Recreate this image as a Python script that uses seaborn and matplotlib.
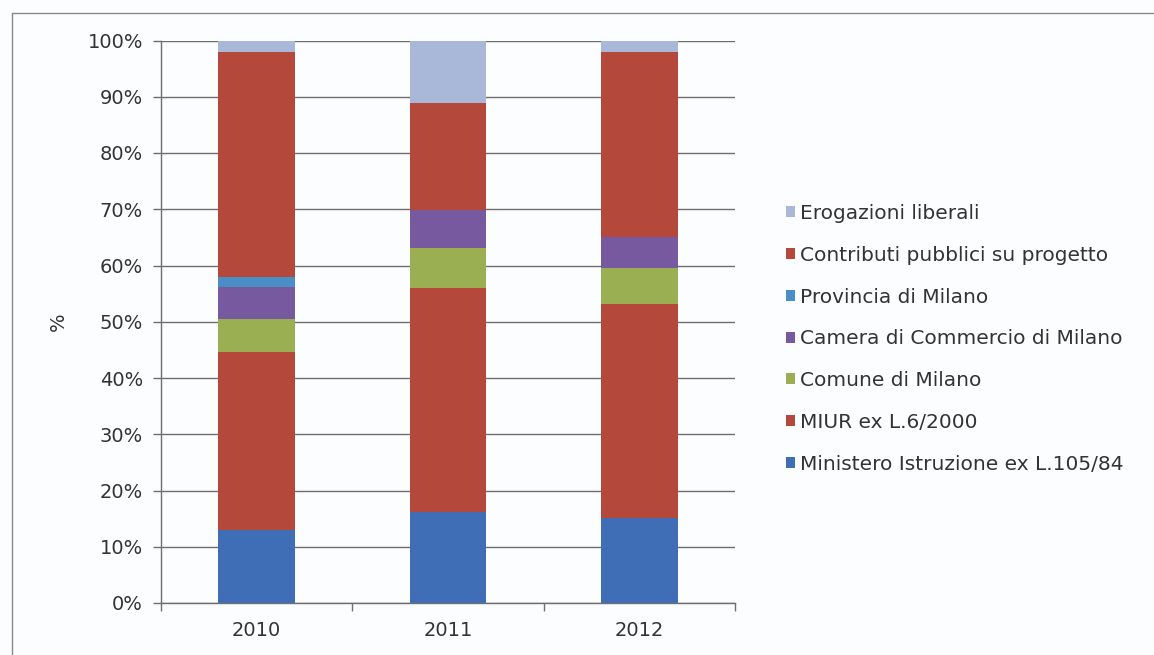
import matplotlib
matplotlib.use("Agg")
import matplotlib.pyplot as plt
import seaborn as sns
import numpy as np
import pandas as pd
from matplotlib.lines import Line2D
from matplotlib.ticker import FixedLocator

# ---- data (percent shares) ----
years = ["2010", "2011", "2012"]
series_names = [
    "Ministero Istruzione ex L.105/84",
    "MIUR ex L.6/2000",
    "Comune di Milano",
    "Camera di Commercio di Milano",
    "Provincia di Milano",
    "Contributi pubblici su progetto",
    "Erogazioni liberali",
]
ministero = [12.9, 16.1, 15.2]
miur = [31.8, 39.9, 38.0]
comune = [5.7, 7.2, 6.3]
camera = [5.7, 6.7, 5.6]
provincia = [1.8, 0.0, 0.0]
contributi = [40.1, 19.0, 32.8]
erogazioni = [2.0, 11.1, 2.1]
series_values = [ministero, miur, comune, camera, provincia, contributi, erogazioni]
ytick_labels = ["0%", "10%", "20%", "30%", "40%", "50%", "60%", "70%", "80%", "90%", "100%"]

colors = ["#3f6db6", "#b4483b", "#9aae52", "#77599f", "#4a8ec8", "#b4483b", "#a9b7d9"]

sns.set_theme(style="white")
plt.rcParams["font.family"] = ["DejaVu Sans"]

fig = plt.figure(figsize=(11.54, 6.55), dpi=100)
fig.patch.set_facecolor("#fcfdfe")
ax = fig.add_axes([161 / 1154, 1 - 603 / 655, (735 - 161) / 1154, (603 - 40.5) / 655])
ax.set_facecolor("none")

bottom = np.zeros(len(years))
for name, vals, col in zip(series_names, series_values, colors):
    d = pd.DataFrame({"year": years, "value": vals, "base": bottom.copy()})
    ax.bar(d["year"], d["value"], bottom=d["base"], width=0.40, color=col,
           edgecolor="none", label=name, zorder=3)
    bottom = bottom + np.array(vals)

sns.despine(ax=ax, top=True, right=True)
ax.set_ylim(0, 100)
ax.set_xlim(-0.5, 2.5)
ax.yaxis.set_major_locator(FixedLocator(np.arange(0, 101, 10)))
ax.set_yticklabels(ytick_labels)
ax.grid(axis="y", color="#6e6e6e", linewidth=1.0, zorder=0)
ax.set_axisbelow(True)
for s in ["left", "bottom"]:
    ax.spines[s].set_color("#6e6e6e")
    ax.spines[s].set_linewidth(1.0)
ax.tick_params(axis="y", which="major", direction="out", length=6, width=1.0,
               color="#6e6e6e", labelsize=14, labelcolor="#333333", pad=7, left=True)
ax.set_xticks([0, 1, 2])
ax.set_xticklabels(years)
ax.set_xticks([-0.5, 0.5, 1.5, 2.5], minor=True)
ax.tick_params(axis="x", which="major", length=0, labelsize=14, labelcolor="#333333", pad=13)
ax.tick_params(axis="x", which="minor", direction="out", length=6, width=1.0,
               color="#6e6e6e", bottom=True)
ax.set_ylabel("%", fontsize=14, color="#333333", labelpad=14)
ax.set_xlabel("")

h, l = ax.get_legend_handles_labels()
leg = fig.legend(h[::-1], l[::-1], loc="upper left",
                 bbox_to_anchor=(778 / 1154, 1 - 196 / 655),
                 frameon=False, fontsize=14.5, handlelength=0.45, handleheight=0.45,
                 handletextpad=0.25, labelspacing=1.13, borderaxespad=0)
for t in leg.get_texts():
    t.set_color("#333333")

# outer frame lines (top and left, as in the scan)
fig.add_artist(Line2D([12 / 1154, 1.0], [1 - 13 / 655, 1 - 13 / 655], color="#888888", linewidth=1.0))
fig.add_artist(Line2D([12 / 1154, 12 / 1154], [0.0, 1 - 13 / 655], color="#888888", linewidth=1.0))

fig.savefig("out.png", dpi=100, facecolor=fig.get_facecolor())
